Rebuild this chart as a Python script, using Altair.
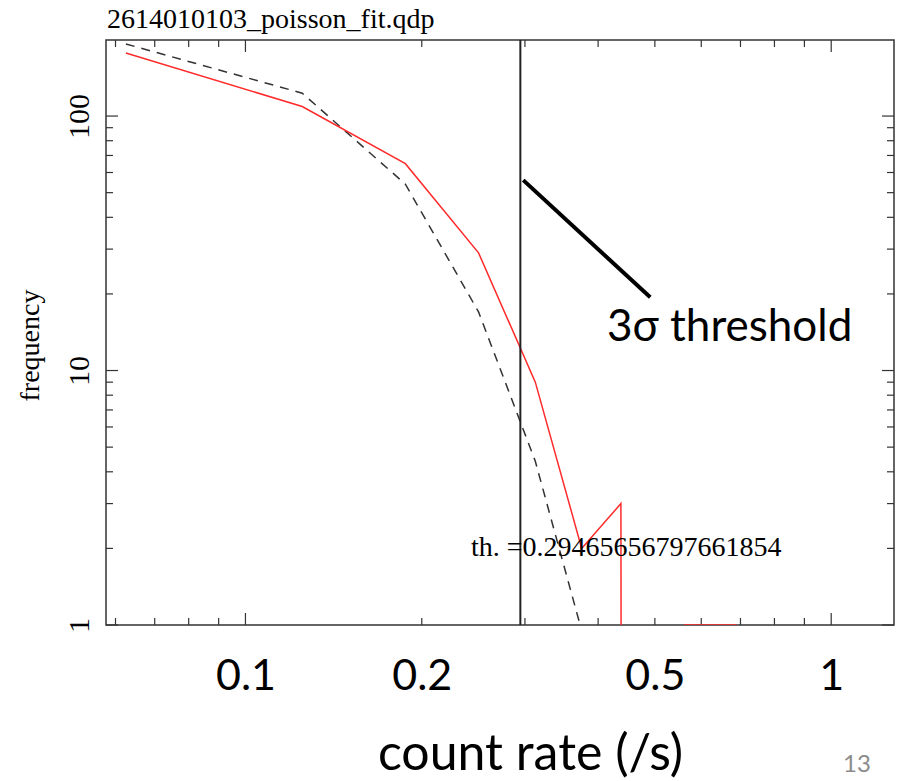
import altair as alt
import pandas as pd

# ---- data ----
rate_bins = [0.0625, 0.125, 0.1875, 0.25, 0.3125, 0.375, 0.4375, 0.5, 0.5625, 0.625, 0.6875, 0.75]
observed = [177, 109, 65, 29, 9, 2, 3, 0, 1, 1, 1, 0]

model_rates = [0.0625, 0.125, 0.1875, 0.25, 0.3125, 0.375, 0.4375]
model_freq = [192, 123, 54, 17, 4.4, 0.95, 0.17]

threshold = 0.29465656797661854
threshold_label = "th. =0.29465656797661854"
plot_title = "2614010103_poisson_fit.qdp"

x_label_values = [0.1, 0.2, 0.5, 1]
y_label_values = [1, 10, 100]
x_major = [0.1, 1]
x_minor = [0.06, 0.07, 0.08, 0.09, 0.2, 0.3, 0.4, 0.5, 0.6, 0.7, 0.8, 0.9]
y_major = [1, 10, 100]
y_minor = [2, 3, 4, 5, 6, 7, 8, 9, 20, 30, 40, 50, 60, 70, 80, 90]

pointer_x = [0.298, 0.491]
pointer_y = [56, 19.4]

# ---- layout ----
W, H = 788, 585
MAJ, MIN = 12, 7
FRAME = "#333333"

xscale = alt.Scale(type="log", domain=[0.0578, 1.28], nice=False)
yscale = alt.Scale(type="log", domain=[1, 199], nice=False)

xaxis = alt.Axis(values=x_label_values, format="~g", grid=False, domain=False, ticks=False,
                 labelFont="Lato", labelFontSize=43, labelColor="black", labelPadding=30,
                 labelFlush=False, labelOverlap=False,
                 title="count rate (/s)", titleFont="Lato", titleFontSize=50,
                 titleFontWeight="normal", titleColor="black", titleX=424, titleY=144,
                 titleAlign="center", titleBaseline="alphabetic")
yaxis = alt.Axis(values=y_label_values, format="~g", grid=False, domain=False, ticks=False,
                 labelFont="Liberation Serif", labelFontSize=30, labelColor="black",
                 labelAngle=270, labelAlign="center", labelBaseline="alphabetic",
                 labelPadding=18, labelFlush=False, labelOverlap=False,
                 title="frequency", titleFont="Liberation Serif", titleFontSize=28,
                 titleFontWeight="normal", titleColor="black", titleAngle=270,
                 titleX=-68, titleY=305, titleAlign="center", titleBaseline="alphabetic")


def X(field="rate"):
    return alt.X(f"{field}:Q", scale=xscale, axis=xaxis)


def Y(field="freq"):
    return alt.Y(f"{field}:Q", scale=yscale, axis=yaxis)


obs_df = pd.DataFrame({"rate": rate_bins, "count": observed})
mod_df = pd.DataFrame({"rate": model_rates, "freq": model_freq})

observed_line = alt.Chart(obs_df).transform_calculate(
    freq="datum.count > 0 ? datum.count : 1e-100"
).mark_line(color="#ff2a2a", strokeWidth=1.5, clip=True).encode(x=X(), y=Y())

model_line = alt.Chart(mod_df).mark_line(
    color="#333333", strokeWidth=1.5, strokeDash=[9, 7], clip=True
).encode(x=X(), y=Y())

thr_line = alt.Chart(pd.DataFrame({"rate": [threshold]})).mark_rule(
    color="#222222", strokeWidth=2
).encode(x=X())

pointer = alt.Chart(pd.DataFrame({"rate": [pointer_x[0]], "rate2": [pointer_x[1]],
                                   "freq": [pointer_y[0]], "freq2": [pointer_y[1]]})).mark_rule(
    color="black", strokeWidth=4
).encode(x=X(), x2="rate2:Q", y=Y(), y2="freq2:Q")


def xticks(values, length, top):
    df = pd.DataFrame({"rate": values})
    if top:
        yv, y2v = 0, length
    else:
        yv, y2v = H, H - length
    return alt.Chart(df).mark_rule(color=FRAME, strokeWidth=1.2).encode(
        x=X(), y=alt.value(yv), y2=alt.value(y2v))


def yticks(values, length, right):
    df = pd.DataFrame({"freq": values})
    if right:
        xv, x2v = W, W - length
    else:
        xv, x2v = 0, length
    return alt.Chart(df).mark_rule(color=FRAME, strokeWidth=1.2).encode(
        y=Y(), x=alt.value(xv), x2=alt.value(x2v))


tick_layers = [
    xticks(x_major, MAJ, False), xticks(x_minor, MIN, False),
    xticks(x_major, MAJ, True), xticks(x_minor, MIN, True),
    yticks(y_major, MAJ, False), yticks(y_minor, MIN, False),
    yticks(y_major, MAJ, True), yticks(y_minor, MIN, True),
]

title_text = alt.Chart(pd.DataFrame({"t": [plot_title]})).mark_text(
    font="Liberation Serif", fontSize=28, align="left", baseline="alphabetic", color="black"
).encode(x=alt.value(1), y=alt.value(-12), text="t:N")

th_text = alt.Chart(pd.DataFrame({"t": [threshold_label]})).mark_text(
    font="Liberation Serif", fontSize=28, align="left", baseline="alphabetic", color="black"
).encode(x=alt.value(365), y=alt.value(516), text="t:N")

sigma_text = alt.Chart(pd.DataFrame({"t": ["3σ threshold"]})).mark_text(
    font="Lato", fontSize=44, align="left", baseline="alphabetic", color="black"
).encode(x=alt.value(501), y=alt.value(301), text="t:N")

page_text = alt.Chart(pd.DataFrame({"t": ["13"]})).mark_text(
    font="Lato", fontSize=24, align="center", baseline="alphabetic", color="#8c8c8c"
).encode(x=alt.value(751), y=alt.value(732), text="t:N")

chart = alt.layer(
    *tick_layers, model_line, observed_line, thr_line, pointer,
    title_text, th_text, sigma_text, page_text
).properties(
    width=W, height=H,
    autosize=alt.AutoSizeParams(type="none"),
    padding={"left": 106, "top": 40, "right": 5, "bottom": 156},
    background="white",
).configure_view(stroke=FRAME, strokeWidth=1.5)

chart.save("out.html", embed_options={"renderer": "svg", "actions": False})
